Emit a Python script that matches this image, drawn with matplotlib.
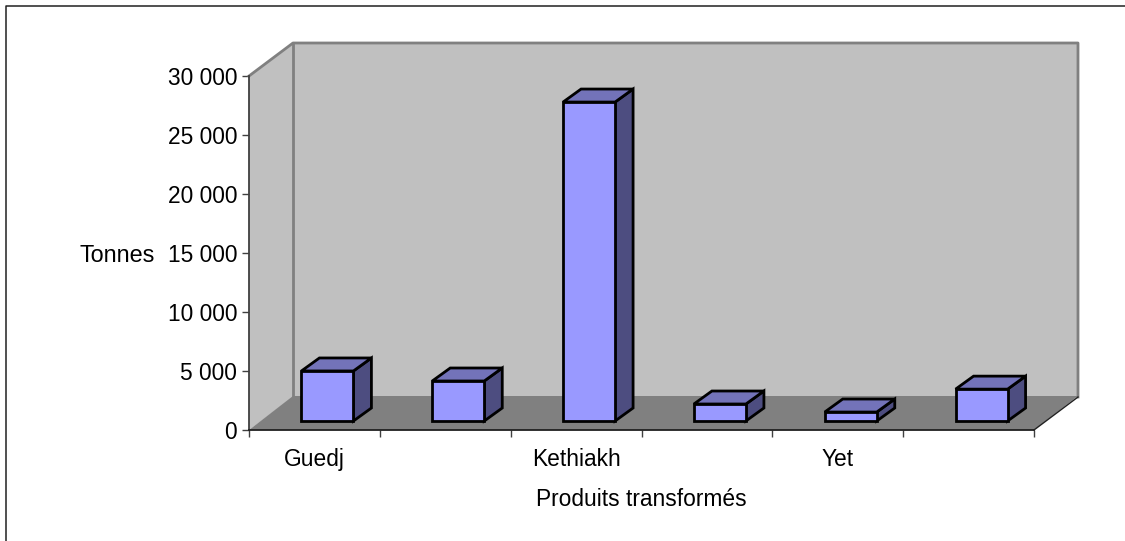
import matplotlib
matplotlib.use('Agg')
import matplotlib.pyplot as plt

plt.rcParams['font.family'] = ['Liberation Sans', 'DejaVu Sans']

categories = ['Guedj', '', 'Kethiakh', '', 'Yet', '']
values = [4240, 3390, 27030, 1440, 760, 2700]
yticks = [0, 5000, 10000, 15000, 20000, 25000, 30000]

W, H = 1125, 541
fig = plt.figure(figsize=(W / 100, H / 100), dpi=100)
ax = fig.add_axes([249 / W, (H - 430) / H, 785 / W, 354 / H])
ax.set_xlim(0, 6)
ax.set_ylim(0, 30000)
ax.patch.set_visible(False)

# pixels to data units
px = 6 / 785
py = 30000 / 354
dx, dy = 44 * px, 33 * py

def poly(xs, ys, color, edge='none', lw=0, z=1):
    ax.fill(xs, ys, facecolor=color, edgecolor=edge, linewidth=lw, clip_on=False,
            zorder=z, joinstyle='miter')

def line(xs, ys, color, lw, z=2):
    ax.plot(xs, ys, color=color, lw=lw, clip_on=False, zorder=z, solid_capstyle='projecting')

# walls and floor
poly([dx, 6 + dx, 6 + dx, dx], [dy, dy, 30000 + dy, 30000 + dy], '#c0c0c0')
poly([0, dx, dx, 0], [0, dy, 30000 + dy, 30000], '#c0c0c0')
poly([0, 6, 6 + dx, dx], [0, 0, dy + 1 * py, dy + 1 * py], '#808080')
line([0, dx, 6 + dx, 6 + dx], [30000, 30000 + dy, 30000 + dy, dy], '#808080', 2.0)
line([dx, dx], [dy, 30000 + dy], '#808080', 2.0)
line([6, 6 + dx], [0, dy], '#202020', 1.0)

# bars
off_x, off_y = 13 * px, 9 * py
bw = 52 * px
bd_x, bd_y = 18 * px, 13 * py
for i, v in enumerate(values):
    x0 = i + 0.5 - bw / 2 + off_x
    x1 = x0 + bw
    y0 = off_y
    y1 = off_y + v
    poly([x1, x1 + bd_x, x1 + bd_x, x1], [y0, y0 + bd_y, y1 + bd_y, y1], '#4d4d80', 'black', 2.0, 3)
    poly([x0, x1, x1 + bd_x, x0 + bd_x], [y1, y1, y1 + bd_y, y1 + bd_y], '#7373b9', 'black', 2.0, 3)
    poly([x0, x1, x1, x0], [y0, y0, y1, y1], '#9999ff', 'black', 2.0, 4)

# axes
for s in ['top', 'right']:
    ax.spines[s].set_visible(False)
ax.spines['left'].set_color('#404040')
ax.spines['bottom'].set_color('#202020')
ax.spines['left'].set_linewidth(1.3)
ax.spines['bottom'].set_linewidth(1.3)
ax.spines['left'].set_zorder(5)
ax.spines['bottom'].set_zorder(5)

ax.set_yticks(yticks)
ax.set_yticklabels([f'{v:,}'.replace(',', ' ') for v in yticks], fontsize=16.4, color='black')
ax.set_xticks(range(7))
ax.set_xticklabels([])
ax.set_xticks([i + 0.5 for i in range(6)], minor=True)
ax.set_xticklabels(categories, minor=True, fontsize=16.4, color='black')
ax.tick_params(axis='both', which='major', length=5, width=1.0, color='#404040', pad=3.5)
ax.tick_params(axis='x', which='minor', length=0, pad=12.8)

ax.set_ylabel('Tonnes', fontsize=16.8, rotation=0, ha='center', va='center')
ax.yaxis.set_label_coords((117 - 249) / 785, (430 - 255.5) / 354)
ax.set_xlabel('Produits transformés', fontsize=16.4, ha='center', va='center')
ax.xaxis.set_label_coords((641 - 249) / 785, (430 - 499) / 354)

# outer frame, cut off at the right and bottom
fig.add_artist(plt.Line2D([6 / W, 6 / W, 1], [0, 1 - 6 / H, 1 - 6 / H], color='#202020', lw=1.1,
                          transform=fig.transFigure))

fig.savefig('out.png', dpi=100)
